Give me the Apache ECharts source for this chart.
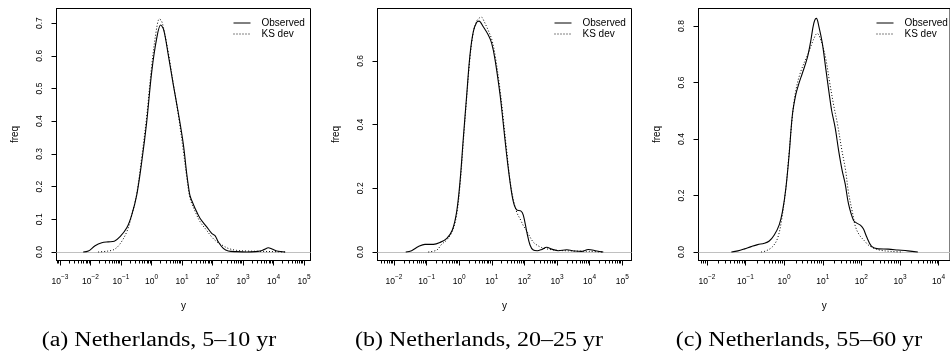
<!DOCTYPE html>
<html><head><meta charset="utf-8">
<script src="https://cdn.jsdelivr.net/npm/echarts@6/dist/echarts.min.js"></script>
<style>html,body{margin:0;padding:0;background:#fff}#c{width:950px;height:355px}</style>
</head><body><div id="c"></div>
<script>
// ---- Data (x values are log10(y)) ----
const aObsLogY = [-2.24,-2.07,-1.85,-1.63,-1.42,-1.22,-1.03,-0.81,-0.65,-0.485,-0.32,-0.157,0.007,0.17,0.30,0.40,0.551,0.715,0.879,1.043,1.154,1.22,1.262,1.33,1.426,1.59,1.81,1.974,2.082,2.19,2.354,2.518,2.793,3.121,3.4,3.557,3.7,3.83,3.95,4.105,4.377];
const aObsFreq = [0,0.003,0.019,0.028,0.031,0.033,0.047,0.074,0.113,0.174,0.276,0.398,0.551,0.653,0.694,0.679,0.602,0.511,0.425,0.33,0.24,0.195,0.172,0.155,0.134,0.103,0.077,0.057,0.05,0.031,0.011,0.003,0.001,0,0.001,0.003,0.008,0.013,0.009,0.003,0];
const aKsLogY = [-1.75,-1.42,-1.22,-1.03,-0.81,-0.65,-0.485,-0.32,-0.157,0.007,0.17,0.26,0.33,0.387,0.551,0.715,0.879,1.043,1.154,1.262,1.426,1.59,1.81,1.974,2.082,2.19,2.354,2.518,2.793,3.121,3.557,4.1,4.4];
const aKsFreq = [0,0.003,0.008,0.025,0.062,0.112,0.178,0.29,0.415,0.57,0.685,0.713,0.706,0.688,0.61,0.515,0.42,0.31,0.23,0.165,0.125,0.093,0.066,0.046,0.036,0.028,0.019,0.011,0.005,0.003,0.002,0.001,0];

const bObsLogY = [-1.64,-1.46,-1.25,-1.05,-0.79,-0.59,-0.38,-0.21,-0.077,0.025,0.126,0.23,0.331,0.433,0.537,0.607,0.739,0.893,0.997,1.098,1.252,1.35,1.45,1.558,1.66,1.764,1.887,1.966,2.071,2.172,2.273,2.396,2.531,2.684,2.837,3.04,3.3,3.55,3.75,3.96,4.218,4.42];
const bObsFreq = [0,0.004,0.017,0.024,0.024,0.030,0.043,0.069,0.127,0.221,0.357,0.493,0.619,0.692,0.721,0.725,0.707,0.681,0.655,0.605,0.495,0.405,0.31,0.221,0.158,0.132,0.129,0.116,0.064,0.022,0.006,0.004,0.008,0.015,0.009,0.004,0.007,0.003,0.002,0.008,0.003,0];
const bKsLogY = [-0.95,-0.69,-0.54,-0.38,-0.21,-0.077,0.025,0.126,0.23,0.331,0.433,0.537,0.62,0.69,0.76,0.893,0.997,1.098,1.252,1.35,1.45,1.558,1.66,1.764,1.887,1.966,2.071,2.172,2.273,2.396,2.531,2.684,2.837,3.04,3.5,4.0,4.4];
const bKsFreq = [0,0.006,0.024,0.038,0.065,0.118,0.21,0.345,0.485,0.61,0.69,0.725,0.735,0.737,0.725,0.695,0.668,0.62,0.51,0.42,0.325,0.225,0.165,0.125,0.1,0.083,0.066,0.047,0.031,0.021,0.014,0.01,0.007,0.005,0.003,0.002,0];

const cObsLogY = [-1.367,-1.197,-1.026,-0.854,-0.685,-0.513,-0.385,-0.256,-0.128,-0.044,0.044,0.128,0.213,0.3,0.385,0.469,0.597,0.685,0.769,0.835,0.897,0.987,1.077,1.167,1.231,1.321,1.41,1.5,1.582,1.667,1.795,1.872,1.974,2.051,2.136,2.264,2.436,2.692,2.949,3.205,3.462];
const cObsFreq = [0,0.004,0.011,0.019,0.026,0.031,0.039,0.06,0.096,0.143,0.225,0.343,0.485,0.556,0.598,0.632,0.686,0.744,0.81,0.827,0.80,0.74,0.65,0.56,0.50,0.44,0.36,0.29,0.24,0.17,0.112,0.103,0.095,0.082,0.054,0.02,0.011,0.01,0.007,0.004,0];
const cKsLogY = [-0.597,-0.469,-0.3,-0.172,-0.07,0.044,0.128,0.213,0.3,0.428,0.641,0.76,0.854,0.974,1.077,1.179,1.282,1.385,1.495,1.59,1.667,1.769,1.846,1.949,2.077,2.205,2.436,2.769,3.077];
const cKsFreq = [0,0.004,0.019,0.048,0.11,0.225,0.35,0.48,0.57,0.638,0.709,0.752,0.774,0.74,0.685,0.6,0.52,0.45,0.36,0.29,0.21,0.14,0.09,0.06,0.04,0.022,0.008,0.002,0];

const aXTicks = [-3,-2,-1,0,1,2,3,4,5];
const bXTicks = [-2,-1,0,1,2,3,4,5];
const cXTicks = [-2,-1,0,1,2,3,4];
const aYTicks = [0,0.1,0.2,0.3,0.4,0.5,0.6,0.7];
const bYTicks = [0,0.2,0.4,0.6];
const cYTicks = [0,0.2,0.4,0.6,0.8];
const seriesNames = ['Observed','KS dev'];
const captions = ['(a) Netherlands, 5\u201310 yr','(b) Netherlands, 20\u201325 yr','(c) Netherlands, 55\u201360 yr'];

// ---- Layout ----
const SANS = 'Liberation Sans, Arial, sans-serif';
const panels = [
  {left:56.5, xMin:-3.115, xMax:5.213, yMin:-0.026, yMax:0.7446, xt:aXTicks, yt:aYTicks, obs:[aObsLogY,aObsFreq], ks:[aKsLogY,aKsFreq], lg:233, cap:159},
  {left:377.5, xMin:-2.506, xMax:5.285, yMin:-0.0267, yMax:0.7645, xt:bXTicks, yt:bYTicks, obs:[bObsLogY,bObsFreq], ks:[bKsLogY,bKsFreq], lg:554, cap:479},
  {left:698.5, xMin:-2.218, xMax:4.295, yMin:-0.0301, yMax:0.862, xt:cXTicks, yt:cYTicks, obs:[cObsLogY,cObsFreq], ks:[cKsLogY,cKsFreq], lg:876, cap:799}
];

function minorTicks(lo, hi){
  const out=[];
  for(let n=Math.floor(lo)-1;n<=Math.ceil(hi);n++){
    for(let k=2;k<=9;k++){const v=n+Math.log10(k); if(v>=lo&&v<=hi) out.push(v);}
  }
  return out;
}
const zip=(xs,ys)=>xs.map((x,i)=>[x,ys[i]]);

const grid=[],xAxis=[],yAxis=[],series=[],legend=[],graphic=[];
panels.forEach((p,i)=>{
  grid.push({left:p.left, top:8.5, width:254, height:252, show:true, borderColor:'#000', borderWidth:1, containLabel:false});
  xAxis.push({type:'value', gridIndex:i, min:p.xMin, max:p.xMax,
    name:'y', nameLocation:'middle', nameGap:41, nameTextStyle:{fontFamily:SANS, fontSize:10, color:'#000'},
    axisLine:{show:true, onZero:false, lineStyle:{color:'#000', width:1}}, splitLine:{show:false},
    axisTick:{show:true, customValues:p.xt, length:5, lineStyle:{color:'#000', width:1}},
    axisLabel:{show:true, customValues:p.xt, margin:13, color:'#000',
      formatter:v=>'{b|10}{s|'+(v<0?'\u2212'+(-v):v)+'}',
      rich:{b:{fontFamily:SANS, fontSize:8.5, lineHeight:13, verticalAlign:'bottom', color:'#000'},
            s:{fontFamily:SANS, fontSize:6.5, lineHeight:6, verticalAlign:'top', color:'#000'}}}
  });
  xAxis.push({type:'value', gridIndex:i, position:'bottom', min:p.xMin, max:p.xMax,
    axisLine:{show:false, onZero:false}, splitLine:{show:false}, axisLabel:{show:false},
    axisTick:{show:true, customValues:minorTicks(p.xMin,p.xMax), length:3, lineStyle:{color:'#000', width:1}}
  });
  yAxis.push({type:'value', gridIndex:i, min:p.yMin, max:p.yMax,
    name:'freq', nameLocation:'middle', nameGap:36, nameRotate:90, nameTextStyle:{fontFamily:SANS, fontSize:10, color:'#000'},
    axisLine:{show:true, onZero:false, lineStyle:{color:'#000', width:1}}, splitLine:{show:false},
    axisTick:{show:true, customValues:p.yt, length:5, lineStyle:{color:'#000', width:1}},
    axisLabel:{show:true, customValues:p.yt, rotate:90, margin:12, fontFamily:SANS, fontSize:8.5, color:'#000', formatter:v=>v.toFixed(1)}
  });
  series.push({name:seriesNames[0], type:'line', xAxisIndex:2*i, yAxisIndex:i, data:zip(p.obs[0],p.obs[1]),
    symbol:'none', showSymbol:false, smooth:0.35, lineStyle:{color:'#000', width:1.1}, itemStyle:{color:'#000'}, z:3,
    markLine:{silent:true, symbol:'none', label:{show:false}, lineStyle:{color:'#c0c0c0', width:1, type:'solid'}, data:[{yAxis:0}], z:1}
  });
  series.push({name:seriesNames[1], type:'line', xAxisIndex:2*i, yAxisIndex:i, data:zip(p.ks[0],p.ks[1]),
    symbol:'none', showSymbol:false, smooth:0.35, lineStyle:{color:'#000', width:1, type:[1,2]}, itemStyle:{color:'#000'}, z:2});
  legend.push({left:p.lg, top:18, padding:0, orient:'vertical', itemWidth:17, itemHeight:10, itemGap:1, selectedMode:false,
    itemStyle:{color:'rgba(0,0,0,0)', borderColor:'rgba(0,0,0,0)', borderWidth:0, opacity:0},
    lineStyle:{width:1},
    data:seriesNames, textStyle:{fontFamily:SANS, fontSize:10, color:'#000', padding:[0,0,0,6]}});
  graphic.push({type:'text', x:p.cap, y:341, scaleX:1.2, scaleY:1,
    style:{text:captions[i], font:'20px "Liberation Serif", "Times New Roman", serif', fill:'#000',
      textAlign:'center', textVerticalAlign:'middle', align:'center', verticalAlign:'middle'}});
});

const chart = echarts.init(document.getElementById('c'));
chart.setOption({animation:false, backgroundColor:'#fff', grid, xAxis, yAxis, series, legend, graphic});
</script></body></html>
